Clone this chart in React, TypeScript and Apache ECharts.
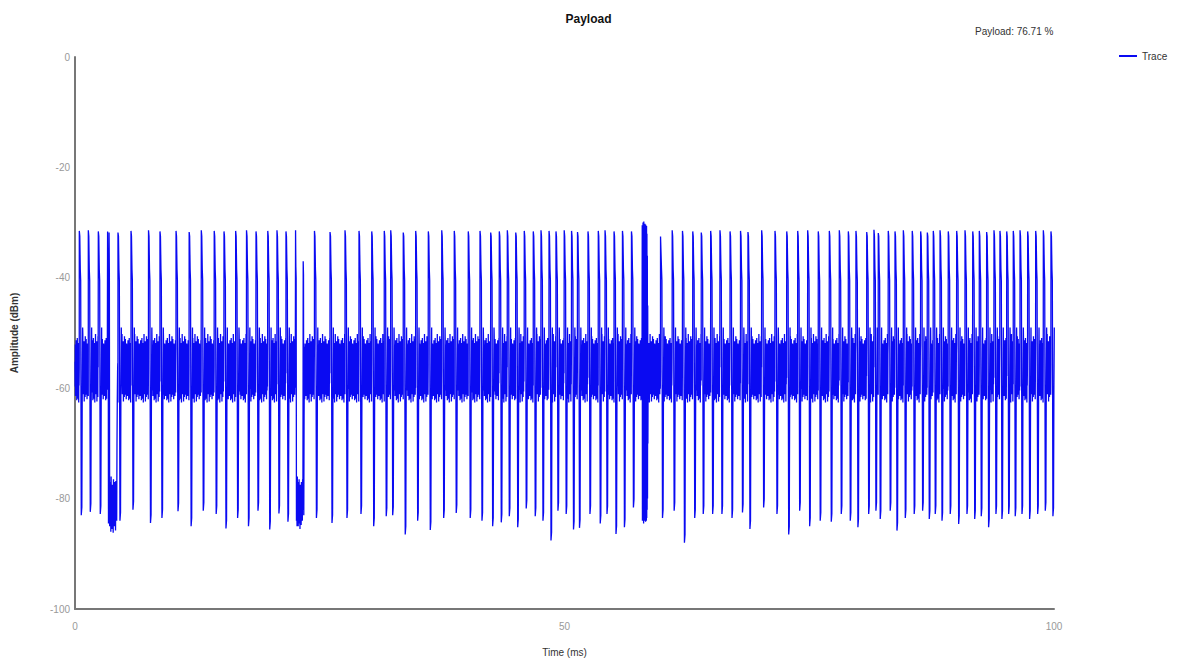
import React, { useEffect, useRef } from "react";
import * as echarts from "echarts";

// Spike centres (ms)
const spikeTimes = [
  0.44, 1.36, 2.38, 4.39, 5.72, 7.51, 8.68, 10.32, 11.66, 12.9, 14.22, 15.22, 16.41, 17.52, 18.49,
  19.69, 20.63, 21.55, 24.46, 26.05, 27.58, 29.01, 30.31, 31.59, 32.25, 33.53, 34.8, 36.09, 37.46,
  38.74, 40.17, 41.37, 42.46, 43.34, 44.16, 45.02, 45.89, 46.81, 47.6, 48.42, 49.13, 49.97, 50.72,
  51.33, 52.4, 53.45, 54.14, 55.06, 55.92, 56.84, 59.81, 61.0, 62.05, 63.1, 63.97, 64.93, 65.88,
  66.91, 67.98, 68.74, 70.14, 71.5, 72.7, 73.82, 74.84, 75.92, 77.05, 78.07, 78.99, 79.77, 80.87,
  81.61, 82.05, 83.07, 83.76, 84.61, 85.52, 86.38, 87.06, 87.67, 88.36, 89.2, 90.06, 90.91, 91.7,
  92.37, 93.12, 93.87, 94.48, 95.17, 95.84, 96.53, 97.31, 98.13, 98.91, 99.69,
];

// Spike peak values (dBm)
const spikeTops = [
  -31.5, -31.4, -31.6, -31.8, -31.5, -31.4, -31.6, -31.5, -31.7, -31.4, -31.5, -31.6, -31.5, -31.4,
  -31.6, -31.5, -31.4, -31.6, -31.5, -31.7, -31.4, -31.5, -31.6, -31.5, -31.4, -31.8, -31.5, -31.6,
  -31.4, -31.5, -31.6, -31.5, -31.8, -31.6, -31.4, -31.8, -31.5, -31.6, -31.4, -31.5, -31.6, -31.4,
  -31.5, -31.7, -31.6, -31.5, -31.4, -31.6, -31.5, -31.6, -32.5, -31.4, -31.5, -31.6, -31.8, -31.5,
  -31.4, -31.6, -31.5, -31.7, -31.4, -31.5, -31.6, -31.5, -31.4, -31.6, -31.5, -31.4, -31.6, -31.5,
  -31.7, -31.3, -31.9, -31.5, -31.6, -31.4, -31.5, -31.6, -31.8, -31.5, -31.4, -31.6, -31.5, -31.4,
  -31.6, -31.5, -31.7, -31.4, -31.5, -31.6, -31.5, -31.4, -31.6, -31.5, -31.4, -31.6,
];

// Spike trough values (dBm)
const spikeBottoms = [
  -83.0, -82.4, -82.8, -84.0, -82.0, -84.4, -83.5, -82.3, -85.0, -82.2, -82.8, -85.4, -83.5, -85.0,
  -82.2, -85.6, -82.7, -84.2, -83.5, -84.4, -83.5, -82.8, -85.0, -83.2, -83.0, -86.5, -84.0, -85.7,
  -83.5, -82.6, -83.5, -84.0, -85.0, -84.3, -83.2, -85.2, -81.8, -83.2, -84.0, -87.6, -82.2, -82.8,
  -85.6, -85.3, -82.8, -84.5, -82.8, -86.4, -85.2, -81.6, -83.5, -82.2, -88.0, -83.5, -82.8, -82.8,
  -82.8, -83.5, -82.5, -85.5, -81.6, -82.8, -86.5, -82.2, -85.0, -84.0, -84.2, -82.8, -84.0, -85.2,
  -82.8, -82.2, -83.7, -82.2, -85.8, -83.5, -82.8, -82.2, -83.7, -82.8, -84.0, -82.8, -84.6, -82.8,
  -83.7, -83.2, -85.2, -82.8, -83.7, -82.8, -83.2, -82.8, -83.7, -82.8, -82.2, -83.2,
];

// Shape of one spike: time offsets (ms) and levels ("top" / "bottom" or dBm)
const spikeShapeDt = [0, 0.05, 0.1, 0.14, 0.2, 0.26, 0.3, 0.34];
const spikeShapeLevel: (string | number)[] = ["top", -32.5, -38.5, -40.5, "bottom", "bottom+", -60, -49];

// Burst near 3.4 ms
const burst1Start = 3.3;
const burst1Values = [
  -56, -31.6, -38.5, -40, -84.5, -79, -31.8, -39, -85, -77, -83, -78.5, -86, -76, -84, -79.5, -85.5,
  -77.5, -82.5, -78, -86.2, -76.5, -83.5, -80, -85, -77, -84.5, -78.5, -85.8, -76.8, -83, -79, -84,
  -70, -62, -57,
];

// Burst near 22.6 ms
const burst2Start = 22.5;
const burst2Values = [
  -57, -31.4, -38, -40, -84, -78, -85, -76, -83.5, -79, -85, -77, -84.5, -76.5, -83, -80, -85.5,
  -77.5, -84, -78, -84.8, -77, -83, -79, -84, -76.5, -82, -37, -39.5, -83, -65, -57,
];

// Tall cluster near 58.3 ms
const clusterStart = 57.92;
const clusterValues = [
  -56, -30.5, -84, -31, -83.5, -30, -82.5, -31.5, -84.5, -29.8, -83, -30.8, -84, -31.2, -82.8,
  -30.2, -83.8, -31, -84.2, -30.4, -83.2, -31.6, -84, -30.6, -83.5, -32, -82, -36, -80, -45, -70,
  -58, -56, -54,
];

// Noise floor samples (dBm)
const noiseValues = [
  -55.2, -59.7, -52.1, -61.4, -54.6, -58.9, -51.3, -60.8, -56.1, -52.7, -62.2, -55.8, -59.1, -50.9,
  -57.3, -61.9, -53.2, -57.8, -51.8, -60.3, -55.5, -62.6, -52.4, -59.5, -56.4, -50.2, -58.6, -61.1,
  -53.9, -52.0, -60.1, -56.9, -51.5, -62.4, -55.1, -59.3, -52.8, -58.1, -61.6, -50.6, -56.2, -60.6,
  -53.3, -58.8, -51.1, -61.2, -55.7, -59.9, -52.5, -62.0, -56.6, -51.9, -60.4,
];

const sampleStep = 0.018;
const burstStep = 0.03;
const clusterStep = 0.02;

function buildTrace(): [number, number][] {
  type Ev = { start: number; pts: [number, number][] };
  const events: Ev[] = [];
  spikeTimes.forEach((ts, i) => {
    const pts: [number, number][] = spikeShapeDt.map((dt, j) => {
      const lv = spikeShapeLevel[j];
      let v: number;
      if (lv === "top") v = spikeTops[i];
      else if (lv === "bottom") v = spikeBottoms[i];
      else if (lv === "bottom+") v = spikeBottoms[i] + 1.5;
      else v = lv as number;
      return [+(ts + dt).toFixed(3), v];
    });
    events.push({ start: ts, pts });
  });
  const addBurst = (start: number, step: number, vals: number[]) => {
    events.push({
      start,
      pts: vals.map((v, i) => [+(start + i * step).toFixed(3), v] as [number, number]),
    });
  };
  addBurst(burst1Start, burstStep, burst1Values);
  addBurst(burst2Start, burstStep, burst2Values);
  addBurst(clusterStart, clusterStep, clusterValues);
  events.sort((a, b) => a.start - b.start);

  const out: [number, number][] = [];
  let t = 0;
  let k = 0;
  for (const ev of events) {
    while (t < ev.start) {
      out.push([+t.toFixed(3), noiseValues[k % noiseValues.length]]);
      k++;
      t += sampleStep;
    }
    for (const p of ev.pts) out.push(p);
    t = ev.pts[ev.pts.length - 1][0] + sampleStep;
  }
  while (t <= 100) {
    out.push([+t.toFixed(3), noiseValues[k % noiseValues.length]]);
    k++;
    t += sampleStep;
  }
  return out;
}

const FONT = "'Liberation Sans', Arial, sans-serif";

export default function App() {
  const ref = useRef<HTMLDivElement>(null);
  useEffect(() => {
    if (!ref.current) return;
    const chart = echarts.init(ref.current, null, { renderer: "svg" });
    const data = buildTrace();
    chart.setOption({
      animation: false,
      backgroundColor: "#ffffff",
      textStyle: { fontFamily: FONT },
      title: {
        text: "Payload",
        left: "center",
        top: 8,
        textStyle: { fontSize: 12, fontWeight: "bold", color: "#111", fontFamily: FONT },
      },
      graphic: [
        {
          type: "text",
          left: 975,
          top: 26,
          style: { text: "Payload: 76.71 %", fontSize: 10, fill: "#333", fontFamily: FONT },
        },
      ],
      legend: {
        data: ["Trace"],
        left: 1114,
        top: 46,
        icon: "rect",
        itemWidth: 18,
        itemHeight: 2,
        itemGap: 4,
        textStyle: { fontSize: 10, color: "#333", fontFamily: FONT },
      },
      grid: { left: 75, right: 123, top: 57, bottom: 54 },
      xAxis: {
        type: "value",
        min: 0,
        max: 100,
        interval: 50,
        name: "Time (ms)",
        nameLocation: "middle",
        nameGap: 38,
        nameTextStyle: { fontSize: 10, color: "#333", fontFamily: FONT },
        axisLine: { onZero: false, lineStyle: { color: "#777", width: 2 } },
        axisTick: { show: false },
        splitLine: { show: false },
        axisLabel: { color: "#999", fontSize: 10, margin: 12, fontFamily: FONT },
      },
      yAxis: {
        type: "value",
        min: -100,
        max: 0,
        interval: 20,
        name: "Amplitude (dBm)",
        nameLocation: "middle",
        nameGap: 56,
        nameTextStyle: { fontSize: 10, color: "#333", fontWeight: "bold", fontFamily: FONT },
        axisLine: { show: true, onZero: false, lineStyle: { color: "#777", width: 2 } },
        axisTick: { show: false },
        splitLine: { show: false },
        axisLabel: { color: "#999", fontSize: 10, margin: 5, fontFamily: FONT },
      },
      series: [
        {
          name: "Trace",
          type: "line",
          data,
          symbol: "none",
          showSymbol: false,
          clip: true,
          lineStyle: { width: 1.3, color: "#0a0af2" },
          itemStyle: { color: "#0a0af2" },
        },
      ],
    });
    return () => chart.dispose();
  }, []);
  return (
    <div
      ref={ref}
      style={{ position: "fixed", left: 0, top: 0, width: 1177, height: 663, background: "#fff" }}
    />
  );
}
